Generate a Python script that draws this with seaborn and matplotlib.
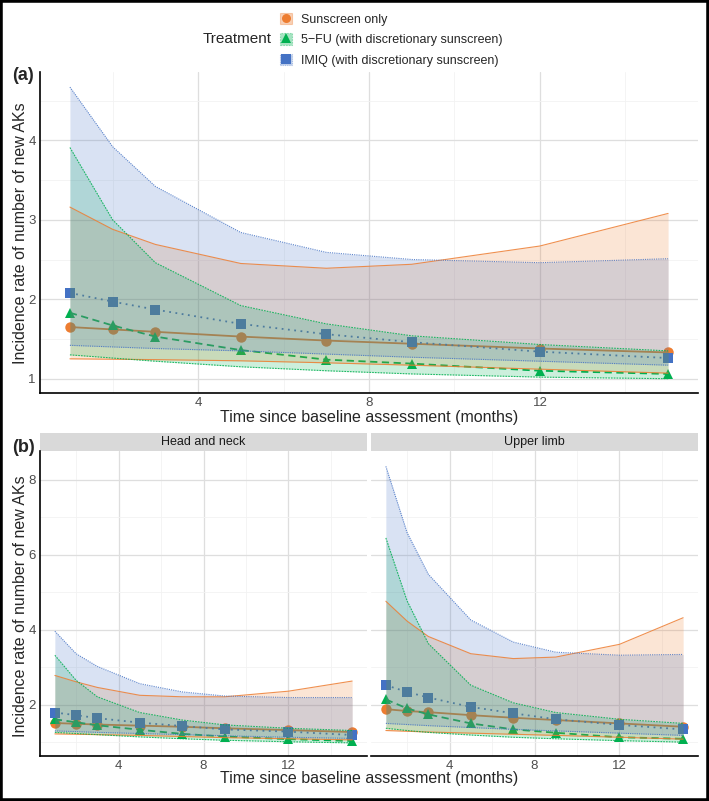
import numpy as np
import pandas as pd
import seaborn as sns
import matplotlib.pyplot as plt
from matplotlib.patches import Patch, Rectangle
from matplotlib.lines import Line2D
from matplotlib.ticker import MultipleLocator

sns.set_theme(style="white")
plt.rcParams['font.family'] = ['Liberation Sans', 'DejaVu Sans']

# follow-up months
months = [1, 2, 3, 5, 7, 9, 12, 15]
treatments = ["Sunscreen only", "5\u2212FU (with discretionary sunscreen)",
              "IMIQ (with discretionary sunscreen)"]

# (a) all sites: mean, lower, upper
sun_mean_a = [1.65, 1.62, 1.59, 1.53, 1.48, 1.44, 1.38, 1.33]
sun_lo_a = [1.25, 1.245, 1.24, 1.225, 1.20, 1.17, 1.12, 1.07]
sun_hi_a = [3.16, 2.88, 2.69, 2.45, 2.39, 2.44, 2.67, 3.08]
fu_mean_a = [1.83, 1.67, 1.53, 1.36, 1.24, 1.19, 1.10, 1.06]
fu_lo_a = [1.30, 1.26, 1.22, 1.15, 1.10, 1.06, 1.02, 1.00]
fu_hi_a = [3.91, 3.00, 2.46, 1.92, 1.69, 1.54, 1.43, 1.35]
iq_mean_a = [2.08, 1.97, 1.87, 1.69, 1.56, 1.46, 1.34, 1.26]
iq_lo_a = [1.42, 1.40, 1.38, 1.35, 1.31, 1.27, 1.22, 1.17]
iq_hi_a = [4.67, 3.92, 3.42, 2.84, 2.59, 2.50, 2.46, 2.51]

# (b) head and neck
hn_sun_mean = [1.51, 1.49, 1.47, 1.44, 1.41, 1.37, 1.32, 1.27]
hn_sun_lo = [1.22, 1.21, 1.20, 1.18, 1.15, 1.12, 1.09, 1.06]
hn_sun_hi = [2.78, 2.61, 2.46, 2.25, 2.21, 2.21, 2.36, 2.63]
hn_fu_mean = [1.61, 1.53, 1.45, 1.33, 1.22, 1.15, 1.08, 1.03]
hn_fu_lo = [1.26, 1.23, 1.20, 1.14, 1.09, 1.05, 1.01, 0.98]
hn_fu_hi = [3.32, 2.65, 2.21, 1.79, 1.59, 1.46, 1.37, 1.31]
hn_iq_mean = [1.79, 1.72, 1.64, 1.52, 1.43, 1.34, 1.28, 1.19]
hn_iq_lo = [1.30, 1.28, 1.26, 1.23, 1.20, 1.17, 1.13, 1.10]
hn_iq_hi = [3.96, 3.36, 3.02, 2.56, 2.34, 2.23, 2.19, 2.19]

# (b) upper limb
ul_sun_mean = [1.88, 1.83, 1.80, 1.72, 1.65, 1.59, 1.50, 1.41]
ul_sun_lo = [1.31, 1.29, 1.27, 1.24, 1.21, 1.18, 1.13, 1.08]
ul_sun_hi = [4.76, 4.23, 3.82, 3.36, 3.23, 3.27, 3.61, 4.32]
ul_fu_mean = [2.14, 1.90, 1.74, 1.50, 1.34, 1.25, 1.13, 1.09]
ul_fu_lo = [1.37, 1.31, 1.26, 1.19, 1.13, 1.09, 1.04, 1.00]
ul_fu_hi = [6.45, 4.77, 3.63, 2.52, 2.05, 1.79, 1.61, 1.50]
ul_iq_mean = [2.52, 2.34, 2.19, 1.94, 1.77, 1.61, 1.46, 1.34]
ul_iq_lo = [1.50, 1.47, 1.44, 1.39, 1.34, 1.30, 1.24, 1.18]
ul_iq_hi = [8.36, 6.59, 5.48, 4.26, 3.67, 3.40, 3.32, 3.34]

colors = {treatments[0]: "#ED7D31", treatments[1]: "#00B050", treatments[2]: "#4472C4"}
markers = {treatments[0]: "o", treatments[1]: "^", treatments[2]: "s"}
mean_dash = {treatments[0]: "", treatments[1]: (4, 2.5), treatments[2]: (1, 2.5)}
edge_ls = {treatments[0]: "-", treatments[1]: (0, (1.5, 1)), treatments[2]: (0, (1, 1))}

panels = {
    "all": [(sun_mean_a, sun_lo_a, sun_hi_a), (fu_mean_a, fu_lo_a, fu_hi_a), (iq_mean_a, iq_lo_a, iq_hi_a)],
    "Head and neck": [(hn_sun_mean, hn_sun_lo, hn_sun_hi), (hn_fu_mean, hn_fu_lo, hn_fu_hi),
                      (hn_iq_mean, hn_iq_lo, hn_iq_hi)],
    "Upper limb": [(ul_sun_mean, ul_sun_lo, ul_sun_hi), (ul_fu_mean, ul_fu_lo, ul_fu_hi),
                   (ul_iq_mean, ul_iq_lo, ul_iq_hi)],
}

rows = []
for panel, series in panels.items():
    for t, (m, lo, hi) in zip(treatments, series):
        for i, mo in enumerate(months):
            rows.append(dict(panel=panel, treatment=t, month=mo, rate=m[i], lo=lo[i], hi=hi[i]))
df = pd.DataFrame(rows)

W, H = 709, 801
fig = plt.figure(figsize=(W / 100, H / 100), dpi=100)


def px(x0, y0, x1, y1):
    return [x0 / W, 1 - y1 / H, (x1 - x0) / W, (y1 - y0) / H]


ax_a = fig.add_axes(px(40, 72, 698, 393))
ax_hn = fig.add_axes(px(40, 451, 367, 756))
ax_ul = fig.add_axes(px(371, 451, 698, 756))


def draw(ax, panel, ylim, ymaj):
    d = df[df.panel == panel]
    sns.lineplot(data=d, x="month", y="rate", hue="treatment", style="treatment",
                 hue_order=treatments, style_order=treatments, palette=colors,
                 markers=markers, dashes=mean_dash, markersize=7.5, markeredgewidth=0,
                 linewidth=1.3, legend=False, ax=ax, zorder=2)
    for t in treatments:
        s = d[d.treatment == t]
        c = colors[t]
        ax.fill_between(s.month, s.lo, s.hi, color=c, alpha=0.2, lw=0, zorder=3)
        for col in ["lo", "hi"]:
            ax.plot(s.month, s[col], color=c, lw=0.8, ls=edge_ls[t], alpha=0.85, zorder=4)
    ax.set_xlim(0.3, 15.7)
    ax.set_ylim(*ylim)
    ax.xaxis.set_major_locator(MultipleLocator(4))
    ax.xaxis.set_minor_locator(MultipleLocator(2))
    ax.yaxis.set_major_locator(MultipleLocator(ymaj))
    ax.yaxis.set_minor_locator(MultipleLocator(ymaj / 2))
    ax.grid(which="major", color="#DEDEDE", lw=0.9)
    ax.grid(which="minor", color="#F2F2F2", lw=0.6)
    ax.set_axisbelow(True)
    for sp in ["top", "right"]:
        ax.spines[sp].set_visible(False)
    ax.spines["bottom"].set_color("black")
    ax.spines["bottom"].set_linewidth(1.2)
    ax.spines["left"].set_color("black")
    ax.spines["left"].set_linewidth(1.2)
    ax.tick_params(length=0, labelsize=9.5, labelcolor="#4D4D4D", pad=3)
    ax.set_xlabel("")
    ax.set_ylabel("")


draw(ax_a, "all", (0.82, 4.86), 1)
draw(ax_hn, "Head and neck", (0.63, 8.77), 2)
draw(ax_ul, "Upper limb", (0.63, 8.77), 2)
ax_ul.spines["left"].set_visible(False)
ax_ul.tick_params(labelleft=False)

ylab = "Incidence rate of number of new AKs"
fig.text(21 / W, 1 - 233 / H, ylab, rotation=90, ha="center", va="center", fontsize=11.5)
fig.text(21 / W, 1 - 606 / H, ylab, rotation=90, ha="center", va="center", fontsize=11.5)
xlab = "Time since baseline assessment (months)"
fig.text(369 / W, 1 - 417 / H, xlab, ha="center", va="center", fontsize=11.5)
fig.text(369 / W, 1 - 779 / H, xlab, ha="center", va="center", fontsize=11.5)

# facet strips
for ax, name in [(ax_hn, "Head and neck"), (ax_ul, "Upper limb")]:
    ax.add_patch(Rectangle((0, 1), 1, 18 / 305, transform=ax.transAxes,
                           facecolor="#D9D9D9", edgecolor="none", clip_on=False))
    ax.text(0.5, 1 + 9 / 305, name, transform=ax.transAxes, ha="center",
            va="center", fontsize=9, color="#1A1A1A")

fig.text(12 / W, 1 - 75 / H, "(a)", fontsize=13, fontweight="bold", va="center")
fig.text(12 / W, 1 - 448 / H, "(b)", fontsize=13, fontweight="bold", va="center")

# legend
handles = []
for t in treatments:
    c = colors[t]
    patch = Patch(facecolor=c, alpha=0.35, edgecolor=c, linestyle=edge_ls[t], lw=0.8)
    mk = Line2D([], [], color=c, marker=markers[t], ls="", markersize=6.5, markeredgewidth=0)
    handles.append((patch, mk))
fig.legend(handles, treatments, loc="upper left", bbox_to_anchor=(271 / W, 1 - 4 / H),
           frameon=False, fontsize=9, handlelength=1.0, handleheight=1.0,
           handletextpad=0.7, labelspacing=0.62, borderpad=0.2)
fig.text(203 / W, 1 - 39 / H, "Treatment", fontsize=11, va="center")

fig.patches.append(Rectangle((0, 0), 1, 1, transform=fig.transFigure, fill=False,
                             edgecolor="black", lw=4))

fig.savefig("out.png", dpi=100)
